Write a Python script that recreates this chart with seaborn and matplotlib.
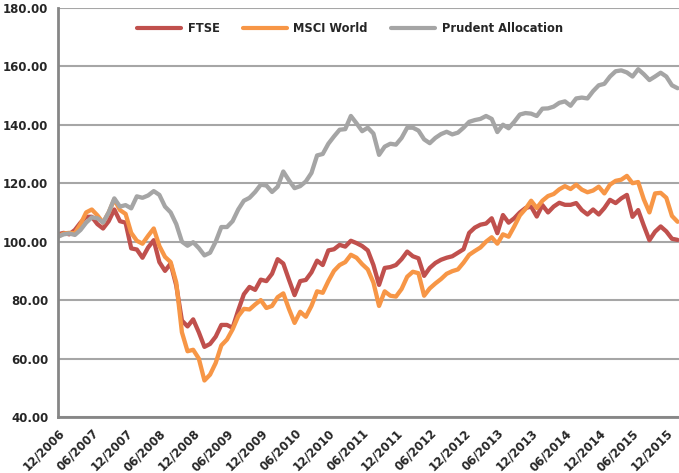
import pandas as pd
import numpy as np
import seaborn as sns
import matplotlib.pyplot as plt

sns.set_style("white")
plt.rcParams['font.family'] = ['DejaVu Sans']

# month index 0 = 12/2006, one value per month up to 02/2016
ftse = [102.5, 103, 102.5, 104, 106.5, 108.5, 108.5, 106, 104.5, 107,
        111, 107, 106.5, 97.7, 97.3, 94.5, 98, 100.5, 93, 90,
        92.5, 85, 73, 71, 73.4, 69, 64, 65, 67.5, 71.5,
        71.5, 70.5, 76.5, 82, 84.5, 83.5, 87, 86.5, 89, 94,
        92.5, 87, 81.7, 86.5, 86.9, 89.5, 93.5, 92, 97, 97.4,
        98.9, 98.3, 100.3, 99.5, 98.5, 97, 92, 85.2, 91, 91.3,
        92, 94, 96.6, 95, 94.3, 88.3, 91, 92.7, 93.8, 94.5,
        95, 96.2, 97.4, 103, 104.8, 105.8, 106.2, 108, 102.9, 109.1,
        106.5, 108, 110, 111.5, 112, 108.6, 112.5, 110, 112, 113.3,
        112.6, 112.6, 113.2, 110.8, 109.3, 111, 109.3, 111.5, 114.3, 113.2,
        114.8, 116, 108.5, 110.8, 105.5, 100.5, 103.4, 105.2, 103.5, 101,
        100.6]
msci = [101.7, 102.8, 103, 102.9, 106, 110, 111, 109, 106.5, 110,
        114.5, 110.8, 109.5, 103, 100.3, 99.3, 102, 104.5, 98.5, 94.8,
        93, 86, 69, 62.5, 63, 60, 52.5, 54.5, 58.5, 64.5,
        66.5, 70, 74.5, 77, 76.8, 78.5, 80, 77.3, 78, 81,
        82.3, 77, 72.2, 76, 74.3, 78, 83, 82.5, 86.5, 90,
        92, 93, 95.5, 94.5, 92.3, 90.5, 86, 78, 83, 81.5,
        81.2, 83.8, 88, 89.7, 89.2, 81.5, 84, 85.7, 87.2, 89,
        89.9, 90.5, 92.8, 95.5, 96.8, 98, 100, 101.5, 99.3, 102.5,
        101.7, 105.2, 109, 111.2, 114, 111.5, 114, 115.6, 116.3, 117.9,
        119, 118, 119.5, 117.8, 116.9, 117.5, 118.8, 116.5, 119.5, 120.8,
        121.2, 122.5, 120, 120.4, 114.5, 110, 116.5, 116.7, 115, 108.8,
        106.8]
prudent = [101.7, 102.5, 102.8, 102.3, 104, 106.5, 108.3, 108, 106.5, 110,
           114.8, 112, 112.5, 111.4, 115.5, 115, 115.8, 117.3, 116, 112,
           110, 106, 100, 98.6, 99.8, 97.8, 95.3, 96.2, 100, 105,
           105, 107, 111, 114, 115, 117, 119.5, 119.2, 117, 118.8,
           124, 121, 118.3, 119, 120.6, 123.5, 129.5, 130, 133.5, 136,
           138.3, 138.5, 143, 140.5, 137.8, 139, 137, 129.7, 132.5, 133.5,
           133.2, 135.5, 139, 139, 138, 135, 133.7, 135.5, 136.8, 137.6,
           136.7, 137.3, 139, 141, 141.6, 142, 143, 142, 137.5, 140,
           138.8, 141, 143.5, 144, 143.8, 143, 145.5, 145.6, 146.2, 147.5,
           148, 146.5, 149, 149.3, 149, 151.5, 153.5, 154, 156.5, 158.3,
           158.6, 157.9, 156.5, 159, 157.3, 155.3, 156.5, 157.8, 156.5, 153.5,
           152.5]
series_names = ["FTSE", "MSCI World", "Prudent Allocation"]
tick_labels = ["12/2006", "06/2007", "12/2007", "06/2008", "12/2008", "06/2009",
               "12/2009", "06/2010", "12/2010", "06/2011", "12/2011", "06/2012",
               "12/2012", "06/2013", "12/2013", "06/2014", "12/2014", "06/2015",
               "12/2015"]

df = pd.DataFrame({"month": np.arange(len(ftse)),
                   series_names[0]: ftse,
                   series_names[1]: msci,
                   series_names[2]: prudent})
long = df.melt(id_vars="month", var_name="series", value_name="value")

fig = plt.figure(figsize=(6.79, 4.73), dpi=100)
ax = fig.add_axes([0.0854, 0.1184, 0.915, 0.865])

sns.lineplot(data=long, x="month", y="value", hue="series",
             palette=["#C0504D", "#F79646", "#A5A5A5"],
             linewidth=3.1, ax=ax, legend=True)

ax.set_xlim(0, 110.3)
ax.set_ylim(40, 180)
ax.set_yticks(np.arange(40, 181, 20))
ax.set_yticklabels([f"{v:.2f}" for v in np.arange(40, 181, 20)],
                   fontsize=8.5, fontweight="bold")
ax.set_xticks(np.arange(0, 6 * len(tick_labels), 6))
ax.set_xticklabels(tick_labels, rotation=45, ha="right",
                   rotation_mode="anchor", fontsize=8.5, fontweight="bold")
ax.set_xlabel("")
ax.set_ylabel("")

ax.yaxis.grid(True, color="#A6A6A6", linewidth=1.5)
ax.set_axisbelow(True)
for s in ["top", "right"]:
    ax.spines[s].set_visible(False)
for s in ["left", "bottom"]:
    ax.spines[s].set_color("#868686")
    ax.spines[s].set_linewidth(2)
ax.tick_params(axis="both", direction="out", length=4, width=1.5,
               color="#868686", pad=3)

leg = ax.legend(loc="upper center", bbox_to_anchor=(0.47, 0.99), ncol=3,
                frameon=False, handlelength=3.8, handletextpad=0.6,
                columnspacing=2.0, prop={"weight": "bold", "size": 8.3})
for line in leg.get_lines():
    line.set_linewidth(3)

plt.savefig("out.png", dpi=100)
